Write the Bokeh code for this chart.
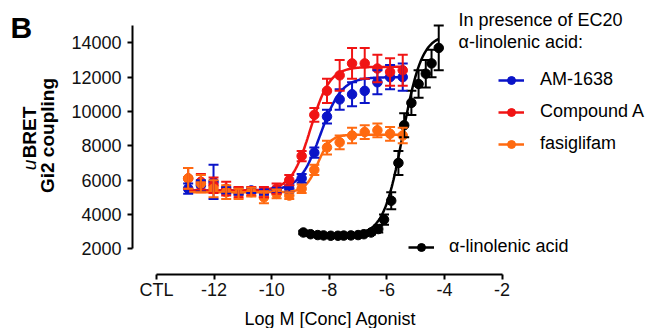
import numpy as np
from bokeh.plotting import figure
from bokeh.layouts import row, column
from bokeh.models import (Range1d, FixedTicker, Whisker, TeeHead, ColumnDataSource,
                          Label, Legend, LegendItem)
from bokeh.embed import file_html
from bokeh.resources import INLINE

# ---------------- data ----------------
x_ticks = [-14, -12, -10, -8, -6, -4, -2]
x_tick_labels = ["CTL", "-12", "-10", "-8", "-6", "-4", "-2"]
y_ticks = [2000, 4000, 6000, 8000, 10000, 12000, 14000]

log_conc = [-12.90, -12.46, -12.02, -11.58, -11.15, -10.71, -10.27, -9.83, -9.39,
            -8.96, -8.52, -8.08, -7.64, -7.21, -6.77, -6.33, -5.89, -5.45]

am1638 = [5500, 5700, 5900, 5400, 5350, 5400, 5300, 5400, 5500,
          6100, 7600, 9700, 10700, 11000, 11200, 11700, 12000, 12000]
am1638_err = [300, 300, 1000, 200, 200, 150, 150, 150, 200,
              250, 300, 400, 600, 700, 700, 700, 700, 800]

compound_a = [6100, 5900, 5700, 5500, 5300, 5350, 5300, 5500, 6000,
              7400, 9800, 11200, 12100, 12800, 12800, 12500, 12300, 12400]
compound_a_err = [600, 450, 450, 400, 300, 250, 300, 300, 300,
                  300, 400, 700, 900, 900, 900, 800, 800, 900]

fasiglifam = [6100, 5800, 5500, 5300, 5200, 5300, 5000, 5200, 5100,
              5500, 6600, 7900, 8200, 8600, 8800, 8900, 8700, 8600]
fasiglifam_err = [600, 500, 500, 400, 300, 250, 350, 250, 200,
                  250, 300, 400, 400, 450, 400, 400, 400, 450]

log_conc_ala = [-8.90, -8.65, -8.40, -8.20, -7.95, -7.70, -7.50, -7.25, -7.00, -6.80,
                -6.55, -6.30, -6.10, -5.85, -5.60, -5.40, -5.15, -4.90, -4.65, -4.45, -4.20]
ala = [2950, 2850, 2800, 2780, 2760, 2760, 2770, 2780, 2800, 2850,
       2950, 3150, 3700, 4800, 7000, 9200, 10500, 11600, 12200, 12800, 13700]
ala_err = [100, 80, 80, 80, 80, 80, 80, 80, 80, 100,
           120, 200, 300, 500, 700, 700, 700, 800, 800, 800, 1300]

# fitted sigmoid parameters (bottom, top, logEC50, Hill slope)
fit_am1638 = [5400, 12000, -8.30, 1.2]
fit_compound_a = [5400, 12600, -8.65, 1.3]
fit_fasiglifam = [5300, 8650, -8.40, 2.0]
fit_ala = [2780, 14500, -5.45, 1.3]

BLUE = "#0a14c8"
RED = "#f01414"
ORANGE = "#ff6a10"
BLACK = "#000000"
FONT = "Liberation Sans"
FS = "18px"

W, H = 647, 328
LEFT_W = 66
TOP_H = 305            # height of the row holding the plot
BOT_H = H - TOP_H      # strip for the x-axis title
FRAME_BOTTOM = 274     # page y of the x axis

# ---------------- geometry helpers (page pixels -> data) ----------------
PX_PER_X = 28.8          # pixels per log unit
Y_PER_PX = 58.25         # response units per pixel


def px_x(px):
    return -14 + (px - 156) / PX_PER_X


def px_y(py):
    return 2000 + (248.3 - py) * Y_PER_PX


def llab(fig, x, y, text, size=FS, style="normal", align="left",
         baseline="alphabetic", angle=0.0):
    fig.add_layout(Label(x=x, y=y, text=text, text_font=FONT, text_font_size=size,
                         text_font_style=style, text_align=align, text_baseline=baseline,
                         angle=angle, text_color="black"))


def blank(width, height, bottom=0):
    f = figure(width=width, height=height, output_backend="svg", toolbar_location=None,
               x_range=Range1d(0, width), y_range=Range1d(bottom, height),
               x_axis_location=None, y_axis_location=None,
               min_border_left=0, min_border_right=0, min_border_top=0,
               min_border_bottom=bottom)
    f.outline_line_color = None
    f.xgrid.visible = False
    f.ygrid.visible = False
    return f


# ---------------- left strip: panel letter and y title ----------------
# frame of this strip is aligned with the main frame (page y 0..274); data y = TOP_H - page y
lf = blank(LEFT_W, TOP_H, bottom=TOP_H - FRAME_BOTTOM)

llab(lf, 10, TOP_H - 27, "B", size="30px", style="bold")
llab(lf, 29.4, TOP_H - 132, "BRET", size="19px", style="bold", align="center",
     baseline="middle", angle=np.pi / 2)
llab(lf, 29.4, TOP_H - 164.5, "u", size="19px", style="italic", align="center",
     baseline="middle", angle=np.pi / 2)
llab(lf, 46.9, TOP_H - 135, "Gi2 coupling", size="19px", style="bold", align="center",
     baseline="middle", angle=np.pi / 2)

# ---------------- main plot ----------------
p = figure(width=W - LEFT_W, height=TOP_H, output_backend="svg", toolbar_location=None,
           x_range=Range1d(px_x(132), px_x(W)), y_range=Range1d(px_y(FRAME_BOTTOM), px_y(0)),
           min_border_left=132 - LEFT_W, min_border_right=0, min_border_top=0,
           min_border_bottom=TOP_H - FRAME_BOTTOM)
p.outline_line_color = None
p.xgrid.visible = False
p.ygrid.visible = False
p.background_fill_color = "white"

for ax in (p.xaxis[0], p.yaxis[0]):
    ax.axis_line_width = 2
    ax.axis_line_color = "black"
    ax.major_tick_line_width = 2
    ax.major_tick_line_color = "black"
    ax.major_tick_out = 5
    ax.major_tick_in = 0
    ax.minor_tick_line_color = None
    ax.major_label_text_font = FONT
    ax.major_label_text_font_size = FS
    ax.major_label_text_color = "#111111"

p.xaxis[0].ticker = FixedTicker(ticks=x_ticks)
p.xaxis[0].major_label_overrides = {t: l for t, l in zip(x_ticks, x_tick_labels)}
p.xaxis[0].bounds = (-14, -2)
p.xaxis[0].major_label_standoff = 0

p.yaxis[0].ticker = FixedTicker(ticks=y_ticks)
p.yaxis[0].bounds = (2000, 15000)
p.yaxis[0].major_label_standoff = 6


def logistic(xs, prm):
    b, t, ec, h = prm
    xs = np.asarray(xs)
    return b + (t - b) / (1 + 10 ** ((ec - xs) * h))


def add_series(xs, ys, errs, prm, color, xfit):
    src = ColumnDataSource(dict(x=xs, y=ys,
                                lo=[a - e for a, e in zip(ys, errs)],
                                hi=[a + e for a, e in zip(ys, errs)]))
    line_r = p.line(xfit, logistic(xfit, prm), line_color=color, line_width=2.5)
    wh = Whisker(source=src, base="x", lower="lo", upper="hi", dimension="height",
                 line_color=color, line_width=2, level="glyph",
                 upper_head=TeeHead(size=10, line_color=color, line_width=2),
                 lower_head=TeeHead(size=10, line_color=color, line_width=2))
    p.add_layout(wh)
    sc = p.scatter("x", "y", source=src, size=9.5, marker="circle",
                   fill_color=color, line_color=color)
    return line_r, sc


xfit_cmp = np.linspace(min(log_conc), max(log_conc), 300)
xfit_ala = np.linspace(min(log_conc_ala), max(log_conc_ala), 300)

r_ala = add_series(log_conc_ala, ala, ala_err, fit_ala, BLACK, xfit_ala)
r_am = add_series(log_conc, am1638, am1638_err, fit_am1638, BLUE, xfit_cmp)
r_ca = add_series(log_conc, compound_a, compound_a_err, fit_compound_a, RED, xfit_cmp)
r_fa = add_series(log_conc, fasiglifam, fasiglifam_err, fit_fasiglifam, ORANGE, xfit_cmp)

leg_common = dict(orientation="vertical", glyph_width=26, glyph_height=20, label_height=20,
                  padding=0, margin=0, border_line_color=None, background_fill_alpha=0,
                  label_text_font=FONT, label_text_font_size=FS, label_text_color="black")

leg1 = Legend(items=[LegendItem(label="AM-1638", renderers=list(r_am)),
                     LegendItem(label="Compound A", renderers=list(r_ca)),
                     LegendItem(label="fasiglifam", renderers=list(r_fa))],
              location=(366, 120), spacing=11, label_standoff=16, **leg_common)
leg2 = Legend(items=[LegendItem(label="α-linolenic acid", renderers=list(r_ala))],
              location=(276, 17), spacing=0, label_standoff=15, **leg_common)
p.add_layout(leg1)
p.add_layout(leg2)

llab(p, px_x(458), px_y(19), "In presence of EC20")
llab(p, px_x(458), px_y(41.5), "α-linolenic acid:")

# ---------------- bottom strip: x-axis title ----------------
bf = blank(W, BOT_H)
llab(bf, 330, TOP_H + BOT_H - 318.5, "Log M [Conc] Agonist", align="center")

layout = column(row(lf, p, spacing=0), bf, spacing=0)
open("out.html", "w").write(file_html(layout, INLINE))
